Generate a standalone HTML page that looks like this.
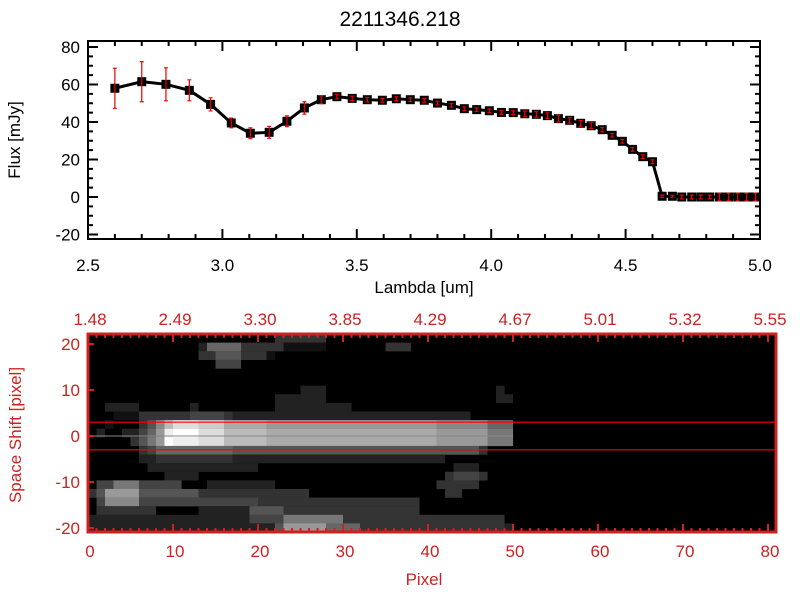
<!DOCTYPE html>
<html><head><meta charset="utf-8"><style>
body{margin:0;background:#fff;}
svg text{font-family:"Liberation Sans",sans-serif;}
</style></head><body>
<svg id="c" width="800" height="600" xmlns="http://www.w3.org/2000/svg">
<rect width="800" height="600" fill="#fff"/>
<text x="400" y="26" font-size="21" text-anchor="middle">2211346.218</text>
<g id="topPlot"></g>
<g id="botPlot"></g>
</svg>
<script>
const lambda=[2.60,2.70,2.79,2.877,2.956,3.033,3.104,3.174,3.24,3.305,3.368,3.426,3.483,3.539,3.595,3.647,3.699,3.751,3.80,3.852,3.90,3.946,3.993,4.038,4.082,4.125,4.168,4.209,4.25,4.292,4.333,4.372,4.413,4.45,4.488,4.526,4.564,4.60,4.636,4.674,4.709,4.746,4.78,4.813,4.849,4.883,4.917,4.95,4.983];
const flux=[58.0,61.5,60.1,56.9,49.4,39.5,34.0,34.5,40.4,47.5,51.9,53.5,52.6,51.9,51.6,52.4,51.9,51.6,50.1,48.9,47.1,46.6,46.0,45.1,45.0,44.4,44.1,43.4,41.8,40.9,39.3,38.0,35.9,32.9,29.7,25.4,21.5,18.8,0.4,0.4,0,0,0,0,0,0,0,0,0];
const fluxErr=[10.7,10.7,8.8,5.6,3.5,2.6,2.9,3.2,2.9,3.3,2.1,1.2,1.2,1.2,1,1,1,1,1,1,1,1,1,1,1,1.5,1.5,1.5,1.8,1.5,1.5,1.5,1.2,1,1,1,1,1,0.6,0.5,1,1,1,1,2,2,2,2,2];
const xTicks=[2.5,3.0,3.5,4.0,4.5,5.0];
const xTickLabels=["2.5","3.0","3.5","4.0","4.5","5.0"];
const yTicks=[-20,0,20,40,60,80];

const pixelTicks=[0,10,20,30,40,50,60,70,80];
const lambdaTopLabels=["1.48","2.49","3.30","3.85","4.29","4.67","5.01","5.32","5.55"];
const shiftTicks=[20,10,0,-10,-20];
const apertureShift=[3,-3];
const imgRows=[
"00000000000000000000003333330000000000000000000000",
"00000000000002666633333111110000000333000000000000",
"00000000000003355533310000000000000000000000000000",
"00000000000000044400000000000000000000000000000000",
"00000000000000000000000000000000000000000000000000",
"00000000000000000000000000000000000000000000000000",
"00000000000000000000000002220000000000000000000020",
"00000000000000000000002222220000000000000000000022",
"00222200000020000000002222222220000000000000000000",
"00011133333344443222222222222222222222222222200000",
"001000358bdddcccaaaaa99999999999999999999888888666",
"0200224 69efffdddbbbbbaaaaaaaaaaaaaaaaaaaa999999777".replace(' ',''),
"0000035 79feeedddbbbbbaaaaaaaaaaaaaaaaaaaa999999777".replace(' ',''),
"00000034666666666555555555555555555555555555553000",
"00000022333333333222222222222222222222222200000000",
"00000002222222222222000000000000000000000002220000",
"00000000022220000000000000000000000000000034443000",
"04477744444000222222220000000000000000000333330000",
"35999955555553333333333333000000000000000033000000",
"04888844444444444444333333333333333333300000000000",
"03333333000002222225555333333333333333300000000000",
"22222222222222222224444777777733333333333333333330",
"22222222222222222222225999996666333333333333333332"
];

const NS="http://www.w3.org/2000/svg";
function mk(parent,tag,attrs){const e=document.createElementNS(NS,tag);for(const k in attrs)e.setAttribute(k,attrs[k]);parent.appendChild(e);return e;}

// ---------- top spectrum ----------
const T={x0:88,x1:760,y0:41,y1:239};
const sx=v=>T.x0+(v-2.5)/2.5*(T.x1-T.x0);
const sy=v=>197-v*1.875;
const topG=document.getElementById('topPlot');
let e;
e=mk(topG,'rect',{x:T.x0,y:T.y0,width:T.x1-T.x0,height:T.y1-T.y0,fill:'none',stroke:'#000','stroke-width':2});


for(let k=0;k<=25;k++){const v=2.5+k*0.1;const x=sx(v);const L=(k%5===0)?10:5;
 mk(topG,'line',{x1:x,x2:x,y1:T.y1,y2:T.y1-L,stroke:'#000','stroke-width':2});
 mk(topG,'line',{x1:x,x2:x,y1:T.y0,y2:T.y0+L,stroke:'#000','stroke-width':2});}
for(let v=-20;v<=80;v+=5){const y=sy(v);const L=(v%20===0)?10:5;
 mk(topG,'line',{x1:T.x0,x2:T.x0+L,y1:y,y2:y,stroke:'#000','stroke-width':2});
 mk(topG,'line',{x1:T.x1,x2:T.x1-L,y1:y,y2:y,stroke:'#000','stroke-width':2});}
xTicks.forEach((v,i)=>{e=mk(topG,'text',{x:sx(v),y:271,'font-size':17,'text-anchor':'middle'});e.textContent=xTickLabels[i];
 
 });
yTicks.forEach(v=>{e=mk(topG,'text',{x:80,y:sy(v)+6,'font-size':17,'text-anchor':'end'});e.textContent=String(v);
 
 });
e=mk(topG,'text',{x:424,y:293,'font-size':17,'text-anchor':'middle'});e.textContent='Lambda [um]';


e=mk(topG,'text',{x:0,y:0,'font-size':17,'text-anchor':'middle',transform:'translate(20,140) rotate(-90)'});e.textContent='Flux [mJy]';


e=mk(topG,'polyline',{points:lambda.map((l,i)=>sx(l)+','+sy(flux[i])).join(' '),fill:'none',stroke:'#000','stroke-width':3});


lambda.forEach((l,i)=>{const x=sx(l),y=sy(flux[i]);
 e=mk(topG,'rect',{x:x-4.5,y:y-4.5,width:9,height:9,fill:'#000'});
 
 
 const ya=sy(flux[i]+fluxErr[i]),yb=sy(flux[i]-fluxErr[i]);
 e=mk(topG,'path',{d:`M${x},${ya}V${yb}M${x-2},${ya}H${x+2}M${x-2},${yb}H${x+2}`,stroke:'#e00',fill:'none','stroke-width':1.2});
 
 });

// ---------- bottom image ----------
const B={x0:88,x1:776,y0:334,y1:532};
const px=v=>B.x0+v*8.5;
const py=v=>436-v*4.6;
const RED='#cc2222';
const botG=document.getElementById('botPlot');
e=mk(botG,'rect',{x:B.x0,y:B.y0,width:B.x1-B.x0,height:B.y1-B.y0,fill:'#000'});


const rh=(B.y1-B.y0)/imgRows.length;
imgRows.forEach((row,r)=>{const rr=(row+'0'.repeat(50)).slice(0,50);for(let c=0;c<50;c++){const lv=parseInt(rr[c],16)||0;if(!lv)continue;const g=Math.round(lv*17);
 e=mk(botG,'rect',{x:px(c),y:B.y0+r*rh,width:8.6,height:rh+0.2,fill:`rgb(${g},${g},${g})`});
 
 }});
e=mk(botG,'line',{x1:B.x0,x2:px(50),y1:py(0),y2:py(0),stroke:'#888','stroke-width':1});


apertureShift.forEach(s=>{e=mk(botG,'line',{x1:B.x0,x2:B.x1,y1:py(s),y2:py(s),stroke:'#f00','stroke-width':1.2});
 
 });
e=mk(botG,'rect',{x:B.x0,y:B.y0,width:B.x1-B.x0,height:B.y1-B.y0,fill:'none',stroke:RED,'stroke-width':3});


for(let v=0;v<=81;v++){const x=px(v);const L=(v%10===0)?8:4;
 mk(botG,'line',{x1:x,x2:x,y1:B.y1,y2:B.y1-L,stroke:RED,'stroke-width':2});
 mk(botG,'line',{x1:x,x2:x,y1:B.y0,y2:B.y0+L,stroke:RED,'stroke-width':2});}
shiftTicks.forEach(v=>{const y=py(v);mk(botG,'line',{x1:B.x0,x2:B.x0+6,y1:y,y2:y,stroke:RED,'stroke-width':2});
 e=mk(botG,'text',{x:80,y:y+6,'font-size':17,'text-anchor':'end',fill:RED});e.textContent=String(v);
 
 });
pixelTicks.forEach((v,i)=>{
 e=mk(botG,'text',{x:px(v)+2,y:557,'font-size':17,'text-anchor':'middle',fill:RED});e.textContent=String(v);
 
 
 e=mk(botG,'text',{x:px(v)+2,y:325,'font-size':17,'text-anchor':'middle',fill:RED});e.textContent=lambdaTopLabels[i];
 
 });
e=mk(botG,'text',{x:424,y:585,'font-size':17,'text-anchor':'middle',fill:RED});e.textContent='Pixel';


e=mk(botG,'text',{x:0,y:0,'font-size':17,'text-anchor':'middle',fill:RED,transform:'translate(21,435) rotate(-90)'});e.textContent='Space Shift [pixel]';


</script>
</body></html>
